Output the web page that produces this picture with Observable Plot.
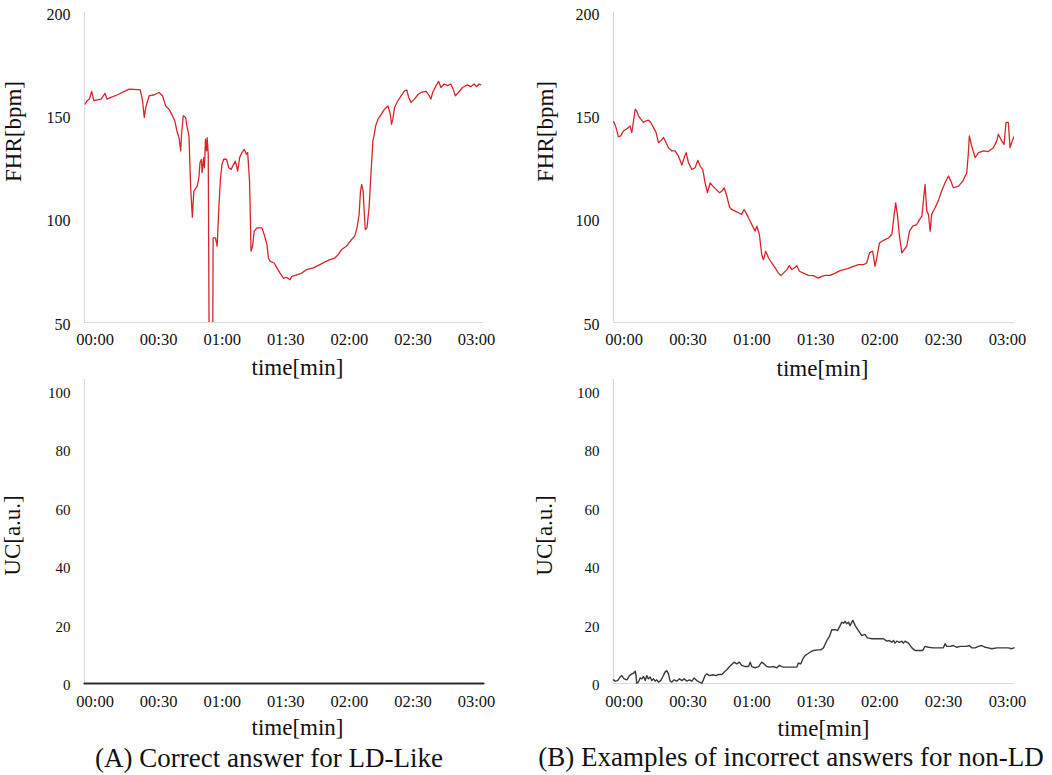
<!DOCTYPE html>
<html>
<head>
<meta charset="utf-8">
<script src="https://cdn.jsdelivr.net/npm/d3@7"></script>
<script src="https://cdn.jsdelivr.net/npm/@observablehq/plot@0.6"></script>
<style>
  html, body { margin: 0; padding: 0; background: #fff; }
  #wrap { position: relative; width: 1052px; height: 775px; overflow: hidden; background: #fff;
          font-family: "Liberation Serif", "Times New Roman", serif; color: #111; }
  .panel { position: absolute; }
  .cap { position: absolute; transform: translate(-50%, -50%); white-space: nowrap; font-size: 27px; line-height: 1; }
</style>
</head>
<body>
<div id="wrap">
  <div class="panel" id="pA1" style="left:0px;top:0px;"></div>
  <div class="panel" id="pB1" style="left:530px;top:0px;"></div>
  <div class="panel" id="pA2" style="left:0px;top:370px;"></div>
  <div class="panel" id="pB2" style="left:530px;top:370px;"></div>
  <div class="cap" style="left:269px;top:758px;">(A) Correct answer for LD-Like</div>
  <div class="cap" style="left:791px;top:757px;">(B) Examples of incorrect answers for non-LD</div>
</div>
<script>
// ---- tick values ----
const timeTicks = [0, 30, 60, 90, 120, 150, 180];   // seconds
const fhrTicks = [50, 100, 150, 200];
const ucTicks = [0, 20, 40, 60, 80, 100];

// ---- (A) FHR, seconds / bpm ----
const fhrA_t = [-4.7,-3.8,-2.7,-1.6,-0.6,0.5,2.8,4.7,5.6,7.5,10.6,13.8,16.1,18.5,21.3,22.4,23.2,23.9,25.5,27.9,30.2,31.8,33.3,34.9,36.5,37.6,38.8,39.6,40.4,40.8,41.6,42.7,43.5,44.3,45.1,45.9,46.6,48.2,49.0,49.5,50.2,50.5,51.3,51.6,52.1,52.6,52.9,53.4,54.0,55.4,55.7,56.8,57.6,58.4,59.2,59.9,60.7,62.0,63.1,64.2,65.4,66.2,67.3,68.2,69.3,70.4,71.4,72.0,72.9,73.6,74.3,75.1,76.4,78.7,79.8,81.1,81.8,82.6,84.5,85.8,87.3,88.9,90.5,92.0,92.8,95.2,97.5,99.8,103.0,106.1,108.5,110.8,113.1,114.7,116.3,118.6,121.0,122.5,123.6,124.6,125.2,125.8,126.5,126.9,127.5,128.3,129.3,129.9,130.5,131.1,131.9,132.4,133.5,135.1,136.6,138.2,139.3,139.9,140.5,141.3,142.9,144.4,146.0,147.1,148.0,149.1,150.7,152.3,153.8,156.2,157.7,158.5,159.3,160.9,162.1,163.2,164.8,166.4,167.9,169.0,170.0,171.5,173.4,175.7,177.3,178.9,180.0,181.2,182.0];
const fhrA_v = [155.7,157.3,158.1,161.8,157.3,157.6,158.1,160.9,158.1,158.9,160.2,161.8,162.9,162.8,162.6,157.3,149.2,154.0,159.7,160.2,161.3,159.7,154.8,153.2,150.0,147.6,141.9,139.5,133.0,141.1,150.0,149.2,144.3,140.3,115.2,101.0,113.6,116.0,120.1,127.3,129.0,122.5,129.8,124.9,138.7,133.0,139.5,131.4,0,0,90.9,90.9,86.9,105.5,120.1,126.5,129.0,129.0,124.9,124.1,126.5,128.1,123.3,129.8,132.2,133.8,131.4,132.2,118.4,84.5,86.9,94.2,95.8,95.8,92.6,87.7,81.2,79.6,78.8,76.4,73.9,71.5,71.8,70.7,72.3,73.1,73.9,75.6,76.4,78.0,79.3,80.4,81.2,82.8,85.3,86.9,90.1,91.7,95.8,102.3,112.8,116.8,113.6,105.5,95.0,95.8,105.5,116.8,127.3,137.9,141.9,145.1,148.4,150.8,153.2,154.8,150.8,145.9,148.4,154.0,157.3,159.7,162.1,162.5,158.9,156.5,158.1,160.2,161.3,161.8,159.7,158.1,161.3,164.6,166.7,163.7,165.4,164.6,165.4,162.9,159.7,161.3,163.7,165.0,164.1,165.4,164.1,165.4,165.0];

// ---- (B) FHR, seconds / bpm ----
const fhrB_t = [-5.0,-4.7,-3.8,-2.7,-1.6,-0.3,0.9,2.0,2.8,3.6,4.4,5.2,5.9,6.7,7.8,9.1,10.3,11.4,12.5,13.8,15.0,16.1,17.2,18.5,19.7,20.8,22.4,23.9,25.5,27.1,28.2,29.1,30.2,31.8,33.3,34.6,35.7,36.9,38.0,39.1,40.4,41.6,43.2,44.8,45.9,47.0,48.2,49.5,50.5,52.1,53.7,55.2,56.3,57.6,59.2,60.7,61.5,62.3,63.5,64.6,65.4,66.5,67.8,69.3,70.9,72.5,73.6,74.8,76.4,77.6,78.7,79.8,81.1,82.3,84.2,86.5,88.9,91.2,92.8,94.4,96.7,99.1,101.4,104.5,107.7,110.0,112.4,113.9,115.2,116.7,117.8,118.6,119.9,121.0,122.5,124.1,125.7,126.8,127.5,128.3,129.3,130.4,131.5,132.7,134.0,135.5,137.4,138.7,139.8,140.5,141.3,142.1,142.9,143.7,144.4,146.0,147.6,149.1,150.7,152.3,153.4,154.6,157.0,159.0,160.9,161.7,162.1,163.2,164.8,166.4,168.7,171.0,173.4,175.0,175.7,177.3,178.4,179.3,180.4,181.2,182.5,183.3];
const fhrB_v = [147.2,146.8,144.3,139.8,140.3,142.7,143.5,144.3,145.1,141.9,147.6,153.2,152.4,150.0,148.4,146.8,147.6,147.9,146.8,144.3,141.9,137.0,137.9,139.5,137.0,134.6,133.0,133.0,130.6,126.2,129.8,132.2,127.3,124.1,124.9,128.5,125.7,124.1,117.6,112.8,117.6,116.0,114.4,112.8,113.6,115.2,111.2,105.8,104.7,103.9,103.1,102.3,104.7,102.3,99.0,95.8,94.2,96.6,92.6,82.8,80.4,84.5,81.2,78.8,76.4,73.9,72.7,73.9,75.6,77.5,75.6,76.4,77.5,74.8,73.9,72.8,72.7,71.5,72.3,72.8,72.8,73.9,75.1,75.9,77.2,78.0,78.0,78.8,83.7,84.5,77.2,81.2,88.5,89.3,90.1,90.9,92.6,102.3,107.9,102.3,91.7,83.7,85.3,86.9,94.2,96.6,97.4,99.8,101.5,108.7,116.8,103.9,102.3,94.2,102.3,105.5,109.1,113.6,117.6,120.9,118.4,115.2,116.0,118.4,122.5,133.0,140.3,135.4,129.8,132.2,133.0,132.7,134.6,137.9,141.1,137.9,136.2,146.8,146.8,134.6,138.7,140.3];

// ---- (A) UC, seconds / a.u. ----
const ucA_t = [-5.0, 30, 60, 90, 120, 150, 183.3];
const ucA_v = [0, 0, 0, 0, 0, 0, 0];

// ---- (B) UC, seconds / a.u. ----
const ucB_t = [-5.0,-4.2,-3.1,-1.9,-1.1,0,1.3,2.5,3.6,4.4,5.2,5.6,5.9,6.7,7.5,8.3,9.1,9.9,10.6,11.4,12.2,13.0,13.8,14.6,15.3,16.1,17.2,18.2,19.2,20.0,20.8,21.6,22.4,23.5,24.7,26.0,27.1,28.2,29.4,30.7,31.8,32.9,34.1,35.4,36.5,37.2,38.0,38.8,40.1,41.6,43.2,44.3,45.9,47.0,48.2,49.5,50.5,51.6,52.9,54.1,55.2,56.8,58.4,59.2,59.9,61.5,63.1,64.6,65.7,67.0,68.5,70.1,71.7,72.9,74.0,74.8,77.2,79.5,81.1,81.8,82.9,83.9,85.0,86.1,87.3,88.9,90.8,92.3,93.6,95.2,96.4,97.5,99.1,100.2,101.4,102.2,103.0,103.8,104.5,105.3,106.1,106.9,107.4,108.5,110.0,111.6,113.1,114.2,116.3,118.6,121.8,123.3,124.6,125.7,126.5,127.2,128.0,129.3,130.4,131.1,131.9,133.5,135.1,136.6,138.2,140.2,141.3,142.9,145.2,147.6,149.9,150.7,151.5,153.1,154.6,156.2,157.8,159.3,160.9,162.1,163.2,164.8,166.4,167.9,169.5,171.0,172.6,175.0,178.1,180.4,182.0,183.1];
const ucB_v = [1.25,0.8,1.0,2.2,2.7,1.6,1.25,2.7,3.3,3.5,4.2,2.7,0.1,0.5,1.9,1.6,2.4,1.0,2.7,1.6,2.2,1.0,1.6,0.8,1.25,0.5,1.0,2.4,3.9,4.4,3.3,0.8,0.5,1.25,0.8,1.6,1.0,1.6,0.8,1.25,0.8,1.9,1.0,0.5,0.1,1.25,2.7,3.3,2.7,3.0,2.7,3.1,3.1,3.9,4.7,5.8,6.5,7.3,6.7,7.3,6.2,5.8,5.8,7.3,5.8,5.4,5.8,7.3,6.7,5.8,5.6,5.8,5.4,6.2,5.8,5.6,5.6,5.6,5.6,7.0,6.7,8.4,9.6,10.1,10.7,11.3,11.5,11.5,12.2,14.7,16.1,18.4,18.4,18.1,19.8,21.0,20.6,21.3,20.4,21.0,19.8,21.0,21.6,19.8,18.1,16.4,16.8,15.6,15.3,15.3,15.3,14.5,14.7,14.1,14.7,13.8,14.5,14.1,14.5,13.8,14.5,13.8,12.2,11.3,11.3,11.3,12.7,12.4,12.2,12.2,12.2,13.6,12.7,12.7,13.0,12.4,12.7,12.7,12.7,13.0,12.2,12.2,12.7,13.0,12.4,12.2,11.9,12.2,12.2,12.2,11.9,12.2];

const zip = (t, v) => t.map((d, i) => ({t: d, v: v[i]}));
const fmt = d => String(Math.floor(d / 60)).padStart(2, "0") + ":" + String(d % 60).padStart(2, "0");
const FONT = "'Liberation Serif', 'Times New Roman', serif";
const AXIS_GREY = "#d9d9d9";

function panel({data, yDomain, yTicks, yLabel, width, height, ml, mr, mt, mb, clip,
                stroke, strokeWidth, yFont, xPad, titleDy, titleDx, yTitleDx, yTitleDy}) {
  return Plot.plot({
    width, height,
    marginLeft: ml, marginRight: mr, marginTop: mt, marginBottom: mb,
    style: {fontFamily: FONT, color: "#111", background: "transparent", overflow: "visible"},
    x: {domain: [-5, 183.3]},
    y: {domain: yDomain},
    marks: [
      Plot.ruleY([yDomain[0]], {stroke: AXIS_GREY, strokeWidth: 1.2}),
      Plot.ruleX([-5], {stroke: AXIS_GREY, strokeWidth: 1.2}),
      Plot.axisY({ticks: yTicks, tickSize: 0, tickPadding: 14, fontSize: yFont, label: null, dy: 2, fill: "#111"}),
      Plot.axisX({ticks: timeTicks, tickFormat: fmt, tickSize: 0, tickPadding: xPad, fontSize: 16.5, label: null, fill: "#111"}),
      Plot.line(data, {x: "t", y: "v", stroke, strokeWidth, clip, strokeLinejoin: "round"}),
      Plot.text(["time[min]"], {text: d => d, frameAnchor: "bottom", lineAnchor: "middle", textAnchor: "middle",
        dy: titleDy, dx: titleDx, fontSize: 23, fill: "#111"}),
      Plot.text([yLabel], {text: d => d, frameAnchor: "left", rotate: -90, textAnchor: "middle", lineAnchor: "middle",
        dx: yTitleDx, dy: yTitleDy, fontSize: 23, fill: "#111"})
    ]
  });
}

const RED = "#d7262b";
const DARK = "#3a3a3a";

document.getElementById("pA1").append(panel({
  data: zip(fhrA_t, fhrA_v), yDomain: [50, 200], yTicks: fhrTicks, yLabel: "FHR[bpm]", clip: true,
  width: 526, height: 380, ml: 84, mr: 43, mt: 12, mb: 58,
  stroke: RED, strokeWidth: 1.3, yFont: 16, xPad: 11, titleDy: 45, titleDx: 13.5, yTitleDx: -71, yTitleDy: -36
}));
document.getElementById("pB1").append(panel({
  data: zip(fhrB_t, fhrB_v), yDomain: [50, 200], yTicks: fhrTicks, yLabel: "FHR[bpm]", clip: true,
  width: 522, height: 380, ml: 83, mr: 38, mt: 12, mb: 58,
  stroke: RED, strokeWidth: 1.3, yFont: 16, xPad: 11, titleDy: 46, titleDx: 8.5, yTitleDx: -68, yTitleDy: -36
}));
document.getElementById("pA2").append(panel({
  data: zip(ucA_t, ucA_v), yDomain: [0, 104], yTicks: ucTicks, yLabel: "UC[a.u.]", clip: false,
  width: 526, height: 375, ml: 84, mr: 43, mt: 9, mb: 62,
  stroke: "#2a2a2a", strokeWidth: 2.2, yFont: 15, xPad: 12, titleDy: 44, titleDx: 13.5, yTitleDx: -72, yTitleDy: 4
}));
document.getElementById("pB2").append(panel({
  data: zip(ucB_t, ucB_v), yDomain: [0, 104], yTicks: ucTicks, yLabel: "UC[a.u.]", clip: false,
  width: 522, height: 375, ml: 83, mr: 38, mt: 9, mb: 62,
  stroke: DARK, strokeWidth: 1.4, yFont: 15, xPad: 12, titleDy: 45, titleDx: 9.5, yTitleDx: -69, yTitleDy: 4
}));
</script>
</body>
</html>
